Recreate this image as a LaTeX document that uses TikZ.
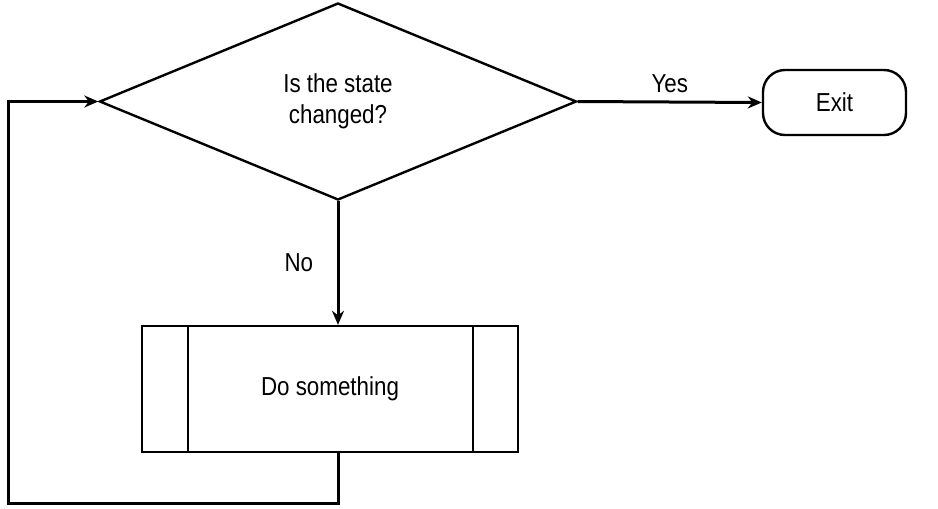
\documentclass[tikz,border=0pt]{standalone}
\usepackage{fontspec}
\setmainfont{Liberation Sans}[FakeStretch=0.86]
\usetikzlibrary{shapes.geometric, arrows.meta, positioning}
\tikzset{
    flow/.style={line width=3pt, -{Stealth[length=14pt, width=12pt]}},
    lbl/.style={font=\fontsize{26}{31}\selectfont}
}
\begin{document}
\begin{tikzpicture}[x=1pt, y=-1pt, line width=2.4pt]
    \useasboundingbox (0,0) rectangle (938,509);
    % Decision
    \node[diamond, draw, minimum width=477pt, minimum height=197pt, aspect=2.42, inner sep=0pt,
          align=center, lbl] (state) at (338,101.5) {Is the state\\changed?};
    % Terminal
    \node[draw, rounded corners=22pt, minimum width=143pt, minimum height=65pt, lbl] (exit) at (834.5,102.5) {Exit};
    % Process with side bars
    \node[draw, minimum width=376pt, minimum height=126pt, lbl] (work) at (330,389) {Do something};
    \draw ([xshift=47pt]work.north west) -- ([xshift=47pt]work.south west);
    \draw ([xshift=-46pt]work.north east) -- ([xshift=-46pt]work.south east);
    % Connectors
    \draw[flow] (state.east) -- (exit.west) node[midway, above=4pt, lbl] {Yes};
    \draw[flow] (state.south) -- (state.south |- work.north) node[midway, left=20pt, lbl] {No};
    \coordinate (loopa) at (338,503);
    \coordinate (loopb) at (8,503);
    \draw[flow] (state.south |- work.south) -- (loopa) -- (loopb) |- (state.west);
\end{tikzpicture}
\end{document}
